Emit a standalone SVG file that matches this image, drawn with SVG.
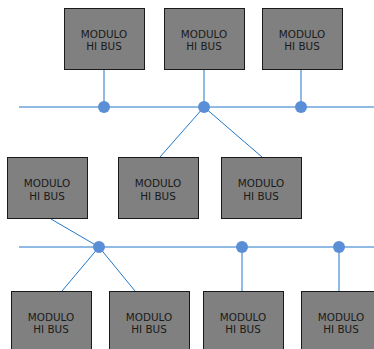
<svg xmlns="http://www.w3.org/2000/svg" width="374" height="349" viewBox="0 0 374 349">
<style>
.box{fill:#808080;stroke:#1a1a1a;stroke-width:1}
.lbl{font-family:"DejaVu Sans",Verdana,sans-serif;font-size:10.4px;fill:#1a1a1a;text-anchor:middle}
.ln{stroke:#1f77c8;stroke-width:1;fill:none}
.dot{fill:#5a8fd8}
</style>
<rect width="374" height="349" fill="#ffffff"/>
<g id="connectors">
<line class="ln" x1="19" y1="107" x2="374" y2="107"/>
<line class="ln" x1="104" y1="69" x2="104" y2="107"/>
<line class="ln" x1="204" y1="69" x2="204" y2="107"/>
<line class="ln" x1="301" y1="69" x2="301" y2="107"/>
<line class="ln" x1="204" y1="107" x2="160" y2="157"/>
<line class="ln" x1="204" y1="107" x2="262" y2="157"/>
<line class="ln" x1="19" y1="247" x2="374" y2="247"/>
<line class="ln" x1="51" y1="219" x2="99" y2="247"/>
<line class="ln" x1="99" y1="247" x2="62" y2="291"/>
<line class="ln" x1="99" y1="247" x2="135" y2="291"/>
<line class="ln" x1="242" y1="247" x2="242" y2="291"/>
<line class="ln" x1="339" y1="247" x2="339" y2="291"/>
<circle class="dot" cx="104" cy="107" r="6"/>
<circle class="dot" cx="204" cy="107" r="6"/>
<circle class="dot" cx="301" cy="107" r="6"/>
<circle class="dot" cx="99" cy="247" r="6"/>
<circle class="dot" cx="242" cy="247" r="6"/>
<circle class="dot" cx="339" cy="247" r="6"/>
</g>
<g id="n1"><rect class="box" x="64.5" y="8.5" width="80" height="61"/><text class="lbl" x="104" y="38">MODULO</text><text class="lbl" x="104" y="50">HI BUS</text></g>
<g id="n2"><rect class="box" x="164.5" y="8.5" width="80" height="61"/><text class="lbl" x="204" y="38">MODULO</text><text class="lbl" x="204" y="50">HI BUS</text></g>
<g id="n3"><rect class="box" x="262.5" y="8.5" width="80" height="61"/><text class="lbl" x="302" y="38">MODULO</text><text class="lbl" x="302" y="50">HI BUS</text></g>
<g id="n4"><rect class="box" x="7.5" y="157.5" width="80" height="61"/><text class="lbl" x="47" y="187">MODULO</text><text class="lbl" x="47" y="200">HI BUS</text></g>
<g id="n5"><rect class="box" x="118.5" y="157.5" width="80" height="61"/><text class="lbl" x="158" y="187">MODULO</text><text class="lbl" x="158" y="200">HI BUS</text></g>
<g id="n6"><rect class="box" x="221.5" y="157.5" width="80" height="61"/><text class="lbl" x="261" y="187">MODULO</text><text class="lbl" x="261" y="200">HI BUS</text></g>
<g id="n7"><rect class="box" x="11.5" y="291.5" width="80" height="61"/><text class="lbl" x="51" y="321">MODULO</text><text class="lbl" x="51" y="333">HI BUS</text></g>
<g id="n8"><rect class="box" x="109.5" y="291.5" width="80" height="61"/><text class="lbl" x="149" y="321">MODULO</text><text class="lbl" x="149" y="333">HI BUS</text></g>
<g id="n9"><rect class="box" x="203.5" y="291.5" width="80" height="61"/><text class="lbl" x="243" y="321">MODULO</text><text class="lbl" x="243" y="333">HI BUS</text></g>
<g id="n10"><rect class="box" x="301.5" y="291.5" width="80" height="61"/><text class="lbl" x="341" y="321">MODULO</text><text class="lbl" x="341" y="333">HI BUS</text></g>
</svg>
